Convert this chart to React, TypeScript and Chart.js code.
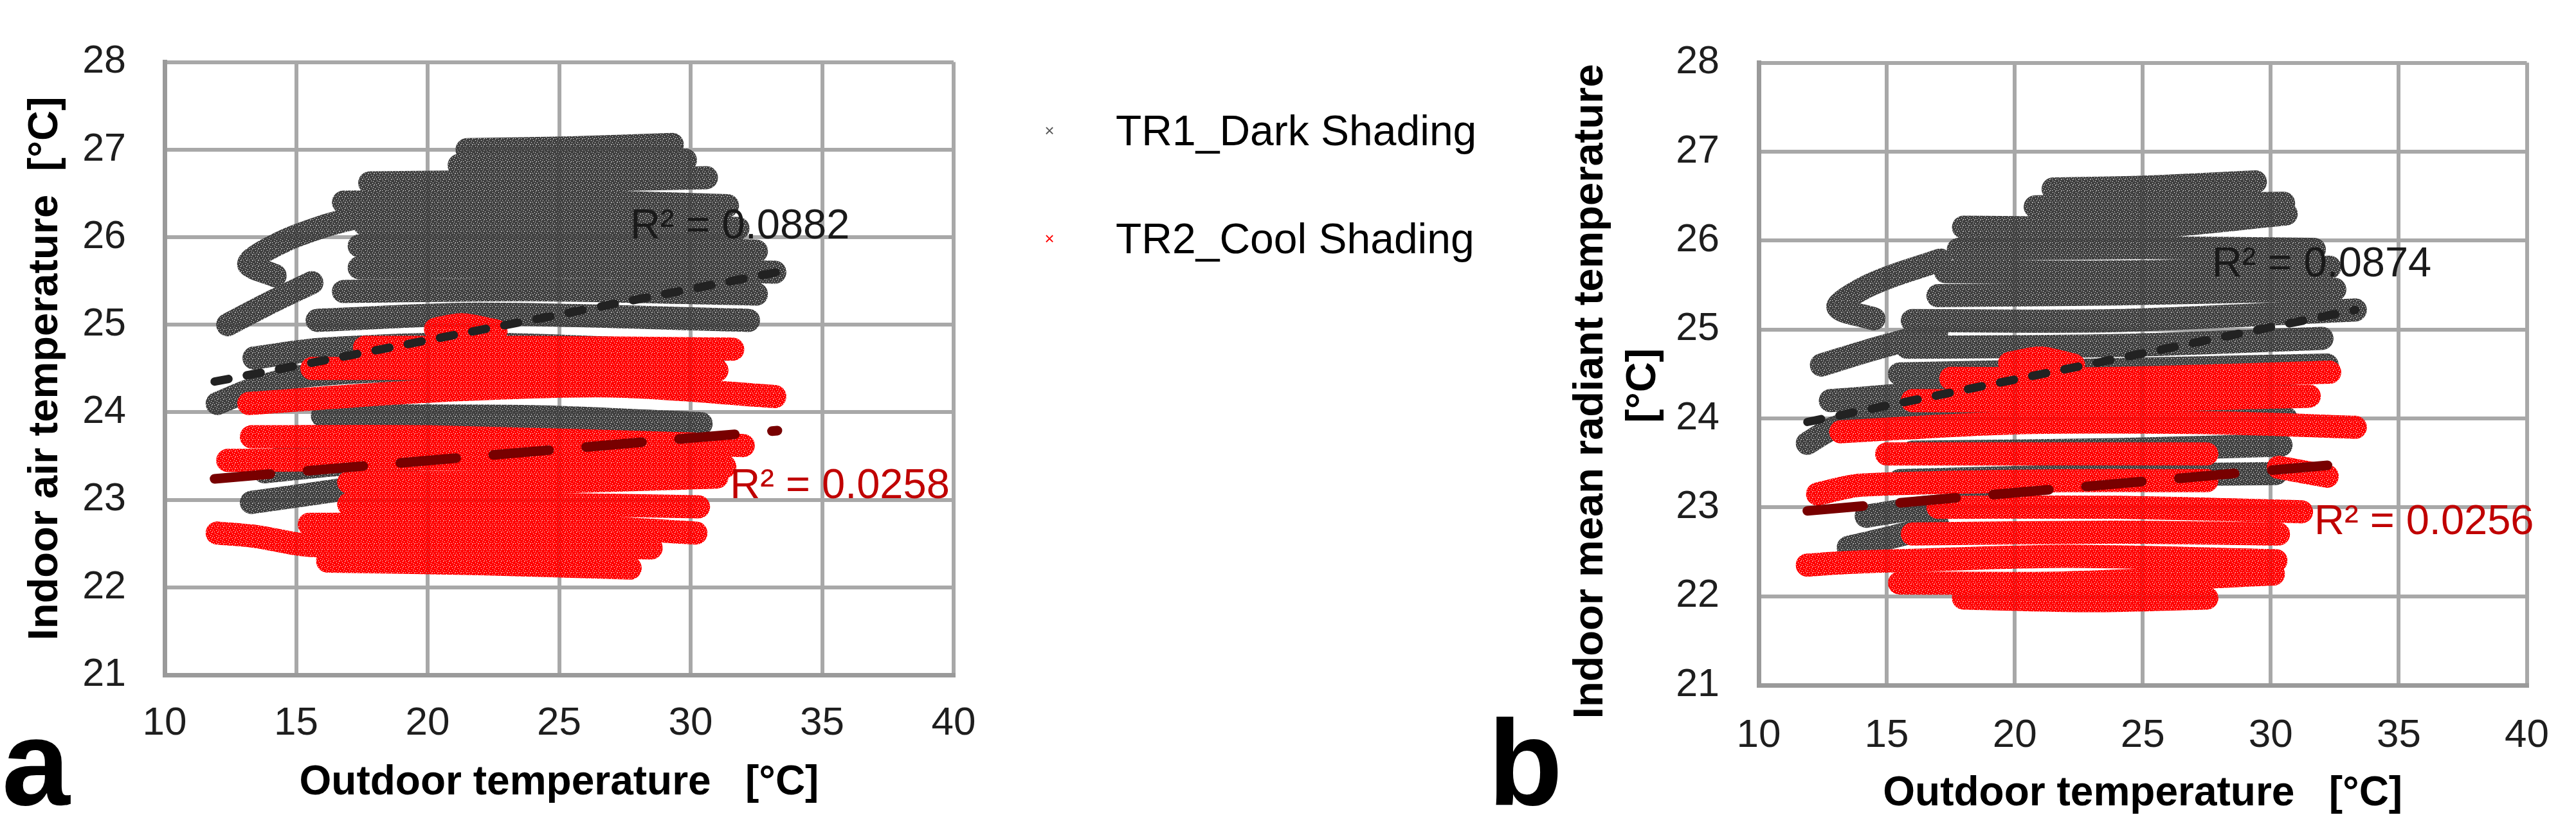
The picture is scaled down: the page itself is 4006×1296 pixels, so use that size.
import React, { useEffect, useRef } from "react";
import { Chart, registerables } from "chart.js";

Chart.register(...registerables);

const FONT = '"Liberation Sans", Arial, Helvetica, sans-serif';

// axis ticks
const xTicks = [10, 15, 20, 25, 30, 35, 40];
const yTicks = [21, 22, 23, 24, 25, 26, 27, 28];

const seriesNames = ["TR1_Dark Shading", "TR2_Cool Shading"];

// (a) indoor air temperature: clouds read as streaks of [outdoor, indoor] points
const airDark: number[][][] = [
  [[13.3, 22.97], [15.2, 23.05], [17.5, 23.15]],
  [[13.8, 23.32], [16.5, 23.4], [19.5, 23.45]],
  [[14.5, 23.66], [18, 23.7], [22, 23.75]],
  [[16, 23.96], [24, 23.95], [30.4, 23.87]],
  [[12.0, 24.1], [13.5, 24.28], [15.5, 24.42], [20, 24.48], [30.6, 24.35]],
  [[13.4, 24.62], [16, 24.72], [22, 24.78], [31, 24.68]],
  [[12.4, 25.0], [14, 25.25], [15.6, 25.48]],
  [[15.8, 25.05], [22, 25.12], [32.2, 25.05]],
  [[16.8, 25.38], [24, 25.4], [32.5, 25.35]],
  [[14.2, 25.56], [13.2, 25.7], [14.5, 25.95], [16, 26.12], [17.2, 26.22]],
  [[17.4, 25.65], [25, 25.66], [33.2, 25.6]],
  [[17.4, 25.9], [25, 25.92], [32.5, 25.84]],
  [[17.6, 26.15], [26, 26.16], [31.8, 26.1]],
  [[16.8, 26.4], [24, 26.42], [31.4, 26.36]],
  [[17.8, 26.62], [24, 26.64], [30.6, 26.68]],
  [[21.2, 26.82], [25, 26.84], [29.8, 26.88]],
  [[21.5, 27.0], [25.5, 27.02], [29.3, 27.06]],
];
const airCool: number[][][] = [
  [[20.3, 24.95], [21.3, 25.0], [22.6, 24.93]],
  [[17.6, 24.74], [24, 24.74], [31.6, 24.72]],
  [[15.6, 24.5], [24, 24.5], [31, 24.48]],
  [[13.2, 24.1], [20, 24.24], [27, 24.3], [33.2, 24.18]],
  [[13.3, 23.72], [20, 23.72], [32, 23.62]],
  [[12.4, 23.45], [22, 23.46], [31.3, 23.38]],
  [[17, 23.2], [24, 23.2], [31, 23.26]],
  [[17, 22.95], [24, 22.95], [30.3, 22.92]],
  [[15.5, 22.72], [24, 22.72], [30.2, 22.62]],
  [[12.0, 22.62], [13.5, 22.58], [15.5, 22.48], [22, 22.48], [28.5, 22.45]],
  [[16.2, 22.3], [22, 22.27], [27.7, 22.22]],
];
const airDarkTrend = [[11.9, 24.35], [33.3, 25.6]];
const airCoolTrend = [[11.9, 23.24], [33.3, 23.79]];
const airR2 = ["R² = 0.0882", "R² = 0.0258"];
const airR2At = [[27.7, 26.12], [31.5, 23.15]];

// (b) indoor mean radiant temperature
const mrtDark: number[][][] = [
  [[13.5, 22.55], [15, 22.65], [17, 22.8]],
  [[14.2, 22.9], [16.5, 23.0], [19.5, 23.05]],
  [[15.5, 23.3], [22, 23.35], [30.2, 23.38]],
  [[16, 23.62], [24, 23.65], [30.4, 23.7]],
  [[11.9, 23.72], [13, 23.9], [15, 24.0], [22, 24.0], [30.6, 24.0]],
  [[12.8, 24.2], [18, 24.3], [31, 24.25]],
  [[12.45, 24.6], [14.5, 24.78], [16.95, 24.97]],
  [[15.5, 24.5], [24, 24.55], [32.2, 24.6]],
  [[15.8, 24.8], [24, 24.82], [32, 24.9]],
  [[14.5, 25.12], [13.1, 25.25], [14.0, 25.45], [15.2, 25.6], [17.1, 25.78]],
  [[16, 25.1], [24, 25.1], [33.3, 25.22]],
  [[17, 25.38], [24, 25.4], [32.5, 25.45]],
  [[17.3, 25.65], [25, 25.65], [32.3, 25.7]],
  [[17.8, 25.9], [25, 25.92], [31.7, 25.9]],
  [[18, 26.15], [25, 26.15], [30.6, 26.3]],
  [[20.8, 26.38], [26, 26.4], [30.5, 26.42]],
  [[21.5, 26.58], [25, 26.6], [29.4, 26.66]],
];
const mrtCool: number[][][] = [
  [[19.8, 24.62], [21, 24.68], [22.3, 24.6]],
  [[17.5, 24.45], [24, 24.45], [32.3, 24.52]],
  [[16, 24.2], [24, 24.2], [31.5, 24.25]],
  [[13.2, 23.85], [20, 23.95], [28, 23.95], [33.3, 23.9]],
  [[15, 23.6], [22, 23.6], [27.5, 23.6]],
  [[30.3, 23.45], [32.2, 23.35]],
  [[12.3, 23.15], [14, 23.25], [22, 23.3], [27.5, 23.3]],
  [[17, 23.0], [24, 23.0], [31.2, 22.95]],
  [[16, 22.7], [24, 22.72], [30.3, 22.7]],
  [[11.9, 22.35], [13.5, 22.38], [15.5, 22.4], [22, 22.45], [30.2, 22.4]],
  [[15.5, 22.15], [22, 22.15], [30.1, 22.25]],
  [[18, 21.98], [23, 21.95], [27.5, 21.98]],
];
const mrtDarkTrend = [[11.9, 23.96], [33.3, 25.22]];
const mrtCoolTrend = [[11.9, 22.96], [33.3, 23.5]];
const mrtR2 = ["R² = 0.0874", "R² = 0.0256"];
const mrtR2At = [[27.7, 25.73], [31.7, 22.83]];

const DARK = "#404040";
const COOL = "#ff0000";

// speckled fill, like the tiny x markers of the original
const speckle = (color: string) => {
  const c = document.createElement("canvas");
  c.width = 9;
  c.height = 9;
  const g = c.getContext("2d")!;
  g.fillStyle = color;
  g.fillRect(0, 0, 9, 9);
  [[1, 2], [5, 0], [7, 5], [3, 6], [0, 8], [6, 8], [4, 3]].forEach(([x, y]) => g.clearRect(x, y, 1, 1));
  return g.createPattern(c, "repeat") || color;
};

const r2Plugin = {
  id: "r2Labels",
  afterDatasetsDraw(chart: any, _args: any, opts: any) {
    const { ctx } = chart;
    const xs = chart.scales.x;
    const ys = chart.scales.y;
    ctx.save();
    ctx.font = `65px ${FONT}`;
    ctx.textAlign = "left";
    ctx.textBaseline = "middle";
    opts.texts.forEach((t: string, i: number) => {
      ctx.fillStyle = opts.colors[i];
      ctx.fillText(t, xs.getPixelForValue(opts.at[i][0]), ys.getPixelForValue(opts.at[i][1]));
    });
    ctx.restore();
  },
};

interface PanelProps {
  left: number;
  width: number;
  dark: number[][][];
  cool: number[][][];
  darkTrend: number[][];
  coolTrend: number[][];
  r2: string[];
  r2At: number[][];
  yTitle: string | string[];
  lay: {
    top: number;
    right: number;
    yWidth: number;
    xHeight: number;
    yTickPad: number;
    xTickPad: number;
    yTitlePad: number;
    yTitleLH: number;
    xTitlePad: number;
  };
}

const H = 1296;

const Panel: React.FC<PanelProps> = (p) => {
  const ref = useRef<HTMLCanvasElement | null>(null);

  useEffect(() => {
    if (!ref.current) return;
    const ctx = ref.current.getContext("2d");
    if (!ctx) return;

    const darkFill = speckle(DARK);
    const coolFill = speckle(COOL);

    const streak = (pts: number[][], color: any, order: number) => ({
      data: pts.map(([x, y]) => ({ x, y })),
      showLine: true,
      borderColor: color,
      backgroundColor: color,
      borderWidth: 36,
      borderCapStyle: "round",
      borderJoinStyle: "round",
      tension: 0.3,
      pointRadius: 0,
      order,
    });

    const datasets: any[] = [
      ...p.dark.map((s) => streak(s, darkFill, 3)),
      ...p.cool.map((s) => streak(s, coolFill, 2)),
      {
        data: p.darkTrend.map(([x, y]) => ({ x, y })),
        showLine: true,
        borderColor: "#222222",
        borderWidth: 13,
        borderDash: [22, 29],
        borderCapStyle: "round",
        pointRadius: 0,
        order: 1,
      },
      {
        data: p.coolTrend.map(([x, y]) => ({ x, y })),
        showLine: true,
        borderColor: "#780000",
        borderWidth: 15,
        borderDash: [87, 58],
        borderCapStyle: "round",
        pointRadius: 0,
        order: 0,
      },
    ];

    const chart = new Chart(ctx, {
      type: "scatter",
      data: { datasets },
      plugins: [r2Plugin],
      options: {
        responsive: false,
        animation: false,
        devicePixelRatio: 1,
        events: [],
        layout: { padding: { left: 0, right: p.lay.right, top: p.lay.top, bottom: 0 } },
        plugins: {
          legend: { display: false },
          tooltip: { enabled: false },
          r2Labels: { texts: p.r2, at: p.r2At, colors: ["#1a1a1a", "#c00000"] },
        } as any,
        scales: {
          x: {
            type: "linear",
            min: 10,
            max: 40,
            afterBuildTicks: (s: any) => {
              s.ticks = xTicks.map((value) => ({ value }));
            },
            afterFit: (s: any) => {
              s.height = p.lay.xHeight;
            },
            grid: { color: "#a8a8a8", lineWidth: 6, drawTicks: false },
            border: { color: "#9a9a9a", width: 7 },
            ticks: { padding: p.lay.xTickPad, color: "#1e1e1e", font: { family: FONT, size: 62 } },
            title: {
              display: true,
              text: "Outdoor temperature   [°C]",
              color: "#000",
              font: { family: FONT, size: 64, weight: "bold" },
              padding: { top: 0, bottom: p.lay.xTitlePad },
            },
          },
          y: {
            type: "linear",
            min: 21,
            max: 28,
            afterBuildTicks: (s: any) => {
              s.ticks = yTicks.map((value) => ({ value }));
            },
            afterFit: (s: any) => {
              s.width = p.lay.yWidth;
            },
            grid: { color: "#a8a8a8", lineWidth: 6, drawTicks: false },
            border: { color: "#9a9a9a", width: 7 },
            ticks: { padding: p.lay.yTickPad, color: "#1e1e1e", font: { family: FONT, size: 61 } },
            title: {
              display: true,
              text: p.yTitle,
              color: "#000",
              font: { family: FONT, size: 65, weight: "bold", lineHeight: p.lay.yTitleLH },
              padding: { top: p.lay.yTitlePad, bottom: 0 },
            },
          },
        } as any,
      },
    } as any);

    return () => {
      chart.destroy();
    };
  }, [p]);

  return (
    <div style={{ position: "absolute", left: p.left, top: 0, width: p.width, height: H }}>
      <canvas ref={ref} width={p.width} height={H} />
    </div>
  );
};

const legendColors = ["#595959", "#ff0000"];
const legendRows = [203, 371];

const App: React.FC = () => {
  return (
    <div style={{ position: "absolute", left: 0, top: 0, width: 4006, height: H, background: "#fff", overflow: "hidden" }}>
      <Panel
        left={0}
        width={1700}
        dark={airDark}
        cool={airCool}
        darkTrend={airDarkTrend}
        coolTrend={airCoolTrend}
        r2={airR2}
        r2At={airR2At}
        yTitle="Indoor air temperature  [°C]"
        lay={{ top: 39, right: 217, yWidth: 256, xHeight: 246, yTickPad: 60, xTickPad: 39, yTitlePad: 32, yTitleLH: 1.2, xTitlePad: 39 }}
      />
      <Panel
        left={2300}
        width={1706}
        dark={mrtDark}
        cool={mrtCool}
        darkTrend={mrtDarkTrend}
        coolTrend={mrtCoolTrend}
        r2={mrtR2}
        r2At={mrtR2At}
        yTitle={["Indoor mean radiant temperature   ", "[°C]  "]}
        lay={{ top: 56, right: 45, yWidth: 435, xHeight: 230, yTickPad: 61, xTickPad: 42, yTitlePad: 133, yTitleLH: 1.26, xTitlePad: 22 }}
      />
      {seriesNames.map((name, i) => (
        <React.Fragment key={name}>
          <div
            style={{
              position: "absolute",
              left: 1620,
              top: legendRows[i] - 13,
              width: 24,
              lineHeight: "26px",
              fontSize: 26,
              fontFamily: FONT,
              color: legendColors[i],
              textAlign: "center",
            }}
          >
            ×
          </div>
          <div
            style={{
              position: "absolute",
              left: 1735,
              top: legendRows[i] - 33,
              lineHeight: 1,
              fontSize: 66,
              fontFamily: FONT,
              color: "#000",
              whiteSpace: "nowrap",
            }}
          >
            {name}
          </div>
        </React.Fragment>
      ))}
      {[
        ["a", 3],
        ["b", 2314],
      ].map(([t, x]) => (
        <div
          key={t as string}
          style={{
            position: "absolute",
            left: x as number,
            top: 1091,
            lineHeight: 1,
            fontSize: 190,
            fontWeight: "bold",
            fontFamily: FONT,
            color: "#000",
          }}
        >
          {t}
        </div>
      ))}
    </div>
  );
};

export default App;
